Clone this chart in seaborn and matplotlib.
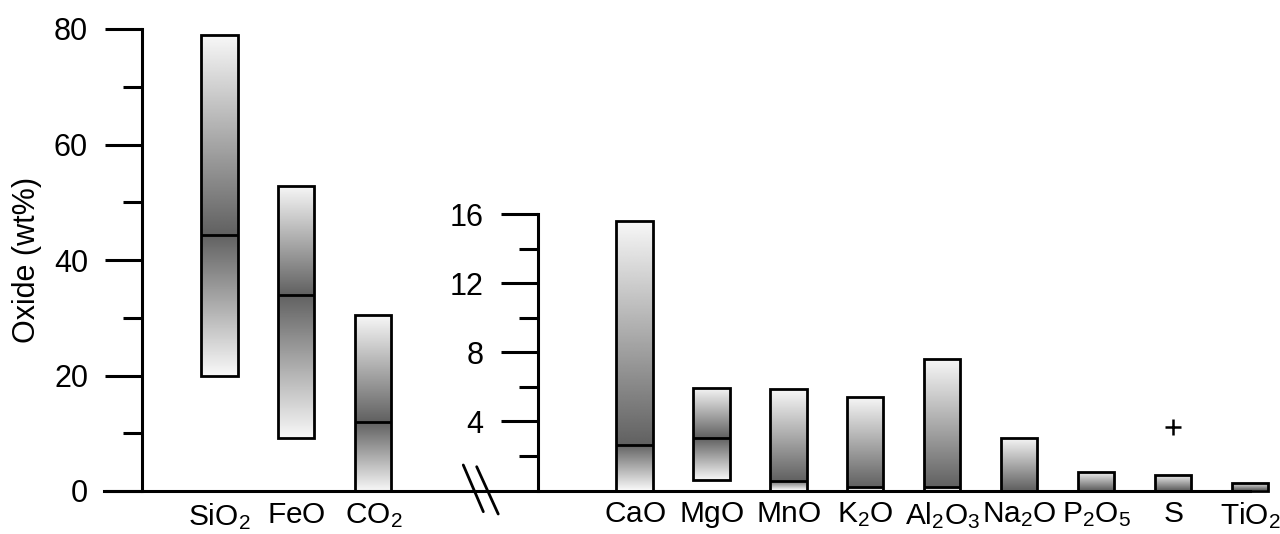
import numpy as np
import pandas as pd
import matplotlib
matplotlib.use("Agg")
import matplotlib.pyplot as plt
import seaborn as sns

# Major oxides, left scale (0-80 wt%)
major_oxides = ["SiO2", "FeO", "CO2"]
major_labels = [r"$\mathregular{SiO_2}$", r"$\mathregular{FeO}$", r"$\mathregular{CO_2}$"]
major_low = [20.0, 9.2, 0.0]
major_high = [78.9, 52.9, 30.4]
major_median = [44.4, 34.0, 11.9]

# Minor oxides, right scale (0-16 wt%)
minor_oxides = ["CaO", "MgO", "MnO", "K2O", "Al2O3", "Na2O", "P2O5", "S", "TiO2"]
minor_labels = [r"$\mathregular{CaO}$", r"$\mathregular{MgO}$", r"$\mathregular{MnO}$",
                r"$\mathregular{K_2O}$", r"$\mathregular{Al_2O_3}$", r"$\mathregular{Na_2O}$",
                r"$\mathregular{P_2O_5}$", r"$\mathregular{S}$", r"$\mathregular{TiO_2}$"]
minor_low = [0.0, 0.6, 0.0, 0.0, 0.0, 0.0, 0.0, 0.0, 0.0]
minor_high = [15.6, 5.93, 5.87, 5.41, 7.61, 3.02, 1.07, 0.9, 0.42]
minor_median = [2.63, 3.03, 0.55, 0.18, 0.18, 0.0, 0.0, 0.0, 0.0]

outlier_oxide = "S"
outlier_value = 3.7

DARK, LIGHT = 0.38, 0.97

sns.set_style("ticks")
plt.rcParams["font.family"] = ["Liberation Sans", "DejaVu Sans"]
plt.rcParams["mathtext.fontset"] = "custom"
plt.rcParams["mathtext.rm"] = "Liberation Sans"
plt.rcParams["axes.edgecolor"] = "black"
plt.rcParams["xtick.color"] = "black"
plt.rcParams["ytick.color"] = "black"
plt.rcParams["text.color"] = "black"
plt.rcParams["axes.labelcolor"] = "black"


def draw_ranges(ax, names, low, high, median):
    df = pd.DataFrame({"oxide": names, "span": np.subtract(high, low)})
    sns.barplot(data=df, x="oxide", y="span", order=names, width=0.47,
                errorbar=None, ax=ax)
    for patch, lo, hi, med in zip(ax.patches, low, high, median):
        patch.set_y(lo)
        patch.set_facecolor("none")
        patch.set_edgecolor("black")
        patch.set_linewidth(2)
        patch.set_zorder(3)
        patch.set_clip_on(False)
        x0 = patch.get_x()
        x1 = x0 + patch.get_width()
        # shade darkest at the median, fading to light at both ends
        if hi > med:
            im = ax.imshow(np.linspace(DARK, LIGHT, 256).reshape(-1, 1), cmap="gray",
                           vmin=0, vmax=1, origin="lower", extent=(x0, x1, med, hi),
                           aspect="auto", zorder=2, interpolation="bilinear")
            im.set_clip_path(patch)
        if med > lo:
            im = ax.imshow(np.linspace(LIGHT, DARK, 256).reshape(-1, 1), cmap="gray",
                           vmin=0, vmax=1, origin="lower", extent=(x0, x1, lo, med),
                           aspect="auto", zorder=2, interpolation="bilinear")
            im.set_clip_path(patch)
            ax.plot([x0, x1], [med, med], color="black", lw=2, zorder=4,
                    solid_capstyle="butt", clip_on=False)


fig = plt.figure(figsize=(12.8, 5.34), dpi=100)
ax = fig.add_axes([104 / 1280, 43 / 534, 1146 / 1280, 462 / 534])
ax_r = fig.add_axes([104 / 1280, 43.5 / 534, 1146 / 1280, 276.5 / 534])

# left panel
draw_ranges(ax, major_oxides, major_low, major_high, major_median)
ax.set_xlim(-1.5, 13.393)
ax.set_ylim(0, 80)
ax.spines["top"].set_visible(False)
ax.spines["right"].set_visible(False)
ax.spines["left"].set_position(("axes", 0.0334))
for s in ["left", "bottom"]:
    ax.spines[s].set_linewidth(2.2)
ax.set_yticks([0, 20, 40, 60, 80])
ax.set_yticks([10, 30, 50, 70], minor=True)
ax.tick_params(axis="y", which="major", length=27, width=2.2, pad=12, labelsize=22)
ax.tick_params(axis="y", which="minor", length=14, width=2.2)
ax.set_xticks(range(len(major_oxides)))
ax.set_xticklabels(major_labels)
ax.tick_params(axis="x", length=0, pad=7, labelsize=21.5)
ax.set_xlabel("")
ax.set_ylabel("Oxide (wt%)", fontsize=22)
ax.yaxis.set_label_coords(-0.054, 0.5)

# axis break marks
for xs, ys in [([0.3135, 0.3310], [0.0563, -0.0448]), ([0.3252, 0.3440], [0.0526, -0.0498])]:
    ax.plot(xs, ys, transform=ax.transAxes, color="black", lw=2, clip_on=False)

# right panel
draw_ranges(ax_r, minor_oxides, minor_low, minor_high, minor_median)
ax_r.plot([minor_oxides.index(outlier_oxide)], [outlier_value], marker="+",
          color="black", ms=12, mew=1.8, ls="none", clip_on=False)
ax_r.set_xlim(-6.897, 7.996)
ax_r.set_ylim(0, 16)
ax_r.patch.set_visible(False)
for s in ["top", "right", "bottom"]:
    ax_r.spines[s].set_visible(False)
ax_r.spines["left"].set_position(("axes", 0.3785))
ax_r.spines["left"].set_linewidth(2.2)
ax_r.set_yticks([4, 8, 12, 16])
ax_r.set_yticks([2, 6, 10, 14], minor=True)
ax_r.tick_params(axis="y", which="major", length=27, width=2.2, pad=12, labelsize=22)
ax_r.tick_params(axis="y", which="minor", length=14, width=2.2)
ax_r.set_xticks(range(len(minor_oxides)))
ax_r.set_xticklabels(minor_labels)
ax_r.tick_params(axis="x", length=0, pad=7, labelsize=21.5)
ax_r.set_xlabel("")
ax_r.set_ylabel("")

fig.savefig("out.png", dpi=100)
